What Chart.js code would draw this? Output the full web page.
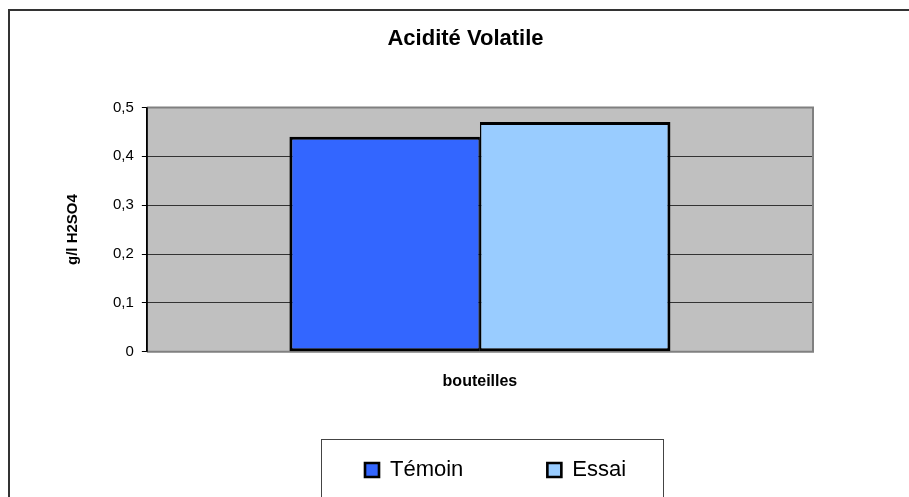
<!DOCTYPE html>
<html lang="fr">
<head>
<meta charset="utf-8">
<title>Acidité Volatile</title>
<script src="https://cdn.jsdelivr.net/npm/chart.js@4.4.1/dist/chart.umd.min.js"></script>
<style>
  html, body { margin: 0; padding: 0; background: #fff; overflow: hidden; }
  #wrap { position: relative; width: 909px; height: 497px; overflow: hidden; }
  #frame { position: absolute; left: 8px; top: 9px; width: 950px; height: 550px;
           border-left: 2px solid #333; border-top: 2px solid #333; }
  #chart { position: absolute; left: 0; top: 0; }
</style>
</head>
<body>
<div id="wrap">
  <div id="frame"></div>
  <canvas id="chart" width="909" height="497"></canvas>
</div>
<script>
// data
const CATEGORIES = ['bouteilles'];
const SERIES_NAMES = ['Témoin', 'Essai'];
const TEMOIN = [0.44];
const ESSAI = [0.47];
const Y_TICKS = ['0', '0,1', '0,2', '0,3', '0,4', '0,5'];

const FONT = 'Arial, "Liberation Sans", sans-serif';
Chart.defaults.font.family = FONT;
Chart.defaults.color = '#000';

// moves the title and legend to where the original sits
const placement = {
  id: 'placement',
  afterLayout(chart) {
    const t = chart.titleBlock;
    const dx = 465.5 - (t.left + t.right) / 2;
    t.left += dx;
    t.right += dx;

    const lg = chart.legend;
    const pad = lg.options.labels.padding;
    const start = (lg.left + pad + lg.right - lg.lineWidths[0]) / 2;
    const shift = 365 - start;
    lg.left += shift;
    lg.right += shift;
    // legend clips to its own box, so give it room down to the bottom
    lg.top = 375;
    lg.bottom = chart.height;
    lg.height = lg.bottom - lg.top;
  }
};

// grey plot background and frame
const plotArea = {
  id: 'plotArea',
  beforeDraw(chart) {
    const { ctx, chartArea: a } = chart;
    ctx.save();
    ctx.fillStyle = '#c0c0c0';
    ctx.fillRect(a.left, a.top, a.right - a.left, a.bottom - a.top);
    ctx.restore();
  },
  beforeDatasetsDraw(chart) {
    const { ctx, chartArea: a } = chart;
    ctx.save();
    ctx.strokeStyle = '#808080';
    ctx.lineWidth = 2;
    ctx.beginPath();
    ctx.moveTo(a.left, a.top);
    ctx.lineTo(a.right, a.top);
    ctx.lineTo(a.right, a.bottom);
    ctx.lineTo(a.left, a.bottom);
    ctx.stroke();
    ctx.strokeStyle = '#000';
    ctx.lineWidth = 1;
    ctx.beginPath();
    ctx.moveTo(a.left + 0.5, a.top);
    ctx.lineTo(a.left + 0.5, a.bottom);
    ctx.stroke();
    ctx.restore();
  }
};

// box round the legend
const legendFrame = {
  id: 'legendFrame',
  afterDraw(chart) {
    const hb = chart.legend.legendHitBoxes;
    if (!hb || !hb.length) return;
    const ctx = chart.ctx;
    const left = Math.round(hb[0].left - 44);
    const right = Math.round(hb[hb.length - 1].left + 116);
    const top = Math.round(hb[0].top - 20);
    ctx.save();
    ctx.strokeStyle = '#444';
    ctx.lineWidth = 1;
    ctx.strokeRect(left + 0.5, top + 0.5, right - left, chart.height - top + 20);
    ctx.restore();
  }
};

new Chart(document.getElementById('chart'), {
  type: 'bar',
  data: {
    labels: CATEGORIES,
    datasets: [
      {
        label: SERIES_NAMES[0],
        data: TEMOIN,
        backgroundColor: '#3366ff',
        borderColor: '#000',
        borderWidth: { top: 3, bottom: 3, left: 3, right: 1.5 },
        borderSkipped: false
      },
      {
        label: SERIES_NAMES[1],
        data: ESSAI,
        backgroundColor: '#99ccff',
        borderColor: '#000',
        borderWidth: { top: 3, bottom: 3, left: 1.5, right: 3 },
        borderSkipped: false
      }
    ]
  },
  options: {
    responsive: false,
    animation: false,
    devicePixelRatio: 1,
    categoryPercentage: 0.572,
    barPercentage: 1,
    layout: { padding: { left: 20, right: 96, top: 0, bottom: 66 } },
    plugins: {
      title: {
        display: true,
        text: 'Acidité Volatile',
        color: '#000',
        font: { size: 22, weight: 'bold' },
        padding: { top: 26, bottom: 55 }
      },
      legend: {
        position: 'bottom',
        maxHeight: 40,
        labels: {
          color: '#000',
          font: { size: 22 },
          boxWidth: 14,
          boxHeight: 14,
          padding: 84
        }
      },
      tooltip: { enabled: false }
    },
    scales: {
      x: {
        ticks: { display: false },
        grid: { display: false, drawTicks: false },
        border: { display: false },
        title: {
          display: true,
          text: CATEGORIES[0],
          color: '#000',
          font: { size: 16, weight: 'bold' },
          padding: { top: 20, bottom: 0 }
        }
      },
      y: {
        min: 0,
        max: 0.5,
        ticks: {
          stepSize: 0.1,
          color: '#000',
          font: { size: 15 },
          padding: 8,
          callback: (v, i) => Y_TICKS[i]
        },
        grid: {
          color: (c) => (c.index === 0 || c.index === Y_TICKS.length - 1) ? 'rgba(0,0,0,0)' : '#333',
          tickColor: '#000',
          tickLength: 5,
          lineWidth: 1
        },
        border: { color: '#000', width: 1 },
        title: {
          display: true,
          text: 'g/l H2SO4',
          color: '#000',
          font: { size: 15, weight: 'bold' },
          padding: { top: 44, bottom: 23 }
        }
      }
    }
  },
  plugins: [placement, plotArea, legendFrame]
});
</script>
</body>
</html>
